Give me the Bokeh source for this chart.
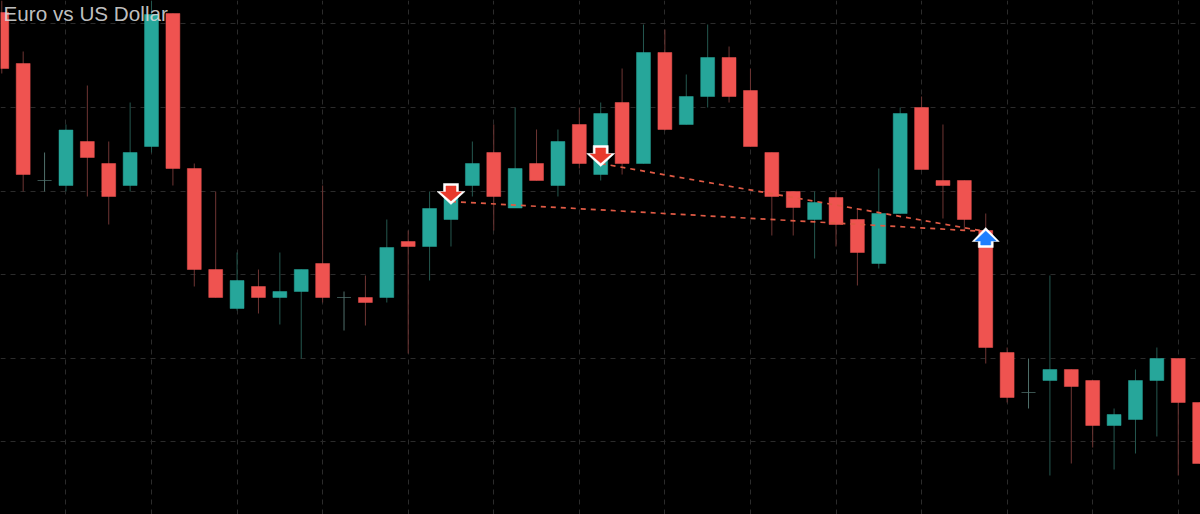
from bokeh.embed import file_html
from bokeh.resources import INLINE
from bokeh.plotting import figure
from bokeh.models import ColumnDataSource, FixedTicker, Label, Range1d, GlobalInlineStyleSheet

title_text = "Euro vs US Dollar"

# Candles (price in chart points, no scale is shown)
opens = [502, 451, 334, 329, 373, 351, 329, 368, 501, 346, 245, 206, 228, 217, 223, 251, 217, 217, 217,
         273, 268, 295, 329, 362, 306.5, 351, 329, 390, 340, 412, 351, 462, 390, 418, 457, 424, 362, 323,
         295, 317, 295, 251, 301, 407, 334, 334, 284, 162, 122, 134, 145, 134, 89, 95, 134, 156, 112]
highs = [514, 463, 362, 390, 429, 373, 412, 514, 501, 351, 323, 262, 245, 262, 245, 329, 223, 239, 295,
         284, 323, 323, 373, 390, 407, 385, 385, 407, 412, 446, 490, 485, 440, 490, 468, 446, 362, 323,
         323, 323, 306, 346, 407, 418, 390, 334, 301, 167, 156, 239, 145, 134, 106, 145, 167, 156, 112]
lows = [441, 323, 323, 323, 318, 290, 323, 362, 329, 228, 217, 204, 201, 190, 156, 212, 184, 189, 212,
        161, 234, 268, 318, 284, 306.5, 334, 318, 346, 334, 340, 351, 384, 390, 407, 412, 368, 279, 279,
        256, 268, 229, 246, 301, 345, 296, 284, 151, 112, 106, 39, 51, 67, 45, 61, 78, 39, 51]
closes = [446, 340, 334, 384.5, 357, 318, 362, 500, 346, 245, 217, 234, 217, 223, 245, 217, 217, 212, 267,
          268, 306, 318, 351, 318, 346, 334, 373, 351, 401, 351, 462, 385, 418, 457, 418, 368, 318, 307,
          312, 290, 262, 301, 401, 345, 329, 295, 167, 117, 122, 145, 128, 89, 100, 134, 156, 112, 51]

# Trades: two sell signals closed by one buy signal
sell_index = [21, 28]
sell_price = [310, 348]
buy_index = [46]
buy_price = [287]
link_start_index = [21, 28]
link_start_price = [313, 351]
link_end_index = [46, 46]
link_end_price = [283, 283]

grid_cols = [3, 7, 11, 15, 19, 23, 27, 31, 35, 39, 43, 47, 51, 55]
grid_rows = [491, 407, 323, 240, 156, 73]

RED, TEAL = "#ef5350", "#26a69a"
RED_WICK, TEAL_WICK, DOJI = "#6e3533", "#24574f", "#4f6f6a"
PX_PER_BAR = 21.39

n = len(opens)
idx = list(range(n))
body_col = [RED if c < o else TEAL if c > o else DOJI for o, c in zip(opens, closes)]
wick_col = [RED_WICK if c < o else TEAL_WICK if c > o else DOJI for o, c in zip(opens, closes)]
src = ColumnDataSource(dict(i=idx, o=opens, h=highs, l=lows, c=closes, body=body_col, wick=wick_col))

p = figure(width=1200, height=514, output_backend="svg", toolbar_location=None,
           x_range=Range1d(-0.06, 56.04), y_range=Range1d(0, 514),
           background_fill_color="#000000", border_fill_color="#000000",
           outline_line_color=None, min_border=0)
p.stylesheets = [GlobalInlineStyleSheet(css="html,body{background:#000}")]
p.axis.visible = False
p.xgrid.ticker = FixedTicker(ticks=grid_cols)
p.ygrid.ticker = FixedTicker(ticks=grid_rows)
p.grid.grid_line_color = "#2b2b2b"
p.grid.grid_line_dash = "5 5"
p.grid.grid_line_width = 1

p.segment("i", "h", "i", "l", source=src, line_color="wick", line_width=1)
p.vbar(x="i", top="o", bottom="c", width=0.65, source=src, fill_color="body", line_color="body", line_width=0.5)

for x0, y0, x1, y1 in zip(link_start_index, link_start_price, link_end_index, link_end_price):
    p.line([x0, x1], [y0, y1], line_color="#e05a45", line_width=1.7, line_dash="5 5")


def arrow(i, tip, direction, half_head, head, half_stem, length, color):
    """Arrow pinned to a bar and price; its shape is given in pixels from the tip."""
    dx = [0, half_head, half_stem, half_stem, -half_stem, -half_stem, -half_head]
    dy = [0, head, head, length, length, head, head]
    xs = [i + d / PX_PER_BAR for d in dx]
    ys = [tip + direction * d for d in dy]
    p.patch(xs, ys, fill_color=color, line_color=color, line_width=0.5, line_join="round")


for i, price in zip(sell_index, sell_price):
    arrow(i, price, 1, 14, 13, 7.5, 21, "#ffffff")
    arrow(i, price + 3.5, 1, 10.5, 9, 5, 15, "#e8392b")
for i, price in zip(buy_index, buy_price):
    arrow(i, price, -1, 13.5, 14, 7.5, 20, "#ffffff")
    arrow(i, price - 3.5, -1, 10.5, 10, 5, 14, "#1e7fff")

p.add_layout(Label(x=3, y=490, x_units="screen", y_units="screen", text=title_text,
                   text_font="Liberation Sans", text_font_size="20.7px",
                   text_color="#d8d8d8", text_alpha=0.9))

open("out.html", "w").write(file_html(p, INLINE))
